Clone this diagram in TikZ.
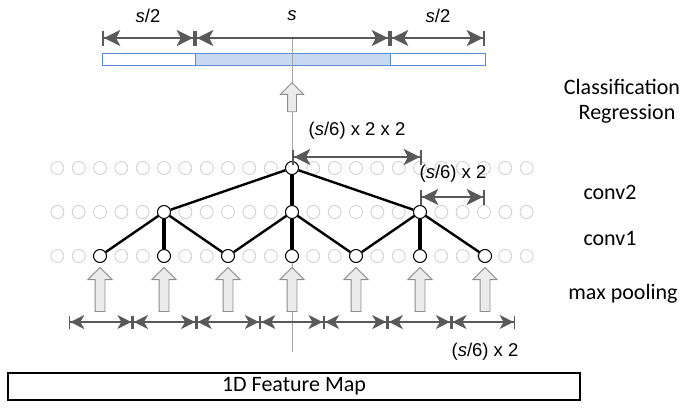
\documentclass[tikz,border=0pt]{standalone}
\usepackage{fontspec}
\setmainfont{Carlito}
\newfontfamily\arialfont{Liberation Sans}
\usetikzlibrary{arrows.meta,shapes.arrows}
\definecolor{dimgrey}{HTML}{595959}
\definecolor{barblue}{HTML}{5B8BD6}
\definecolor{barfill}{HTML}{C6D9F1}
\tikzset{
  bigdim/.style={draw=dimgrey, line width=2.2pt, {Bar[width=15pt,sep=0pt]Stealth[length=16pt,width=16pt,inset=4pt,sep=0pt]}-{Stealth[length=16pt,width=16pt,inset=4pt,sep=0pt]Bar[width=15pt,sep=0pt]}},
  smalldim/.style={draw=dimgrey, line width=1.3pt, {Bar[width=13pt,sep=0pt]Stealth[length=14pt,width=14pt,inset=4pt,sep=0pt]}-{Stealth[length=14pt,width=14pt,inset=4pt,sep=0pt]Bar[width=13pt,sep=0pt]}},
  ghost/.style={circle, draw=black!20, line width=0.8pt, minimum size=13pt, inner sep=0pt},
  unit/.style={circle, draw=black, fill=white, line width=1pt, minimum size=13pt, inner sep=0pt},
  edge/.style={line width=2.4pt},
  vedge/.style={line width=3.6pt},
  blockarr/.style={single arrow, shape border rotate=90, draw=black!45, fill=black!8, line width=0.9pt, inner sep=4.5pt, minimum width=18pt, single arrow tip angle=90},
  lab/.style={font=\fontsize{22}{26}\selectfont},
  dimlab/.style={font=\arialfont\fontsize{18.5}{22}\selectfont},
}
\begin{document}
\begin{tikzpicture}[x=1pt, y=-1pt]
\useasboundingbox (0,0) rectangle (686,408);
% output window
\draw[barblue, fill=white, line width=1pt] (102,53) rectangle (485,65);
\draw[barblue, fill=barfill, line width=1pt] (195,53) rectangle (390,65);
\coordinate (w0) at (102,38);
\coordinate (w1) at (195,38);
\coordinate (w2) at (390,38);
\coordinate (w3) at (485,38);
\draw[bigdim] (w0) -- (w1);
\draw[bigdim] (w1) -- (w2);
\draw[bigdim] (w2) -- (w3);
\node[dimlab] (ls1) at (148,16) {\textit{s}/2};
\node[dimlab] (ls) at (292,16) {\textit{s}};
\node[dimlab] (ls2) at (438,16) {\textit{s}/2};
% centre line
\coordinate (ctop) at (292,39);
\coordinate (cbot) at (292,352);
\draw[black!35, line width=0.8pt] (ctop) -- (cbot);
% grey units
\foreach \y in {168,212,256}
  \foreach \k in {-11,...,11}
    \node[ghost] (g\y\k) at ({292+21.33*\k},\y) {};
% active units
\node[unit] (t) at (292,168) {};
\node[unit] (m1) at (164,212) {};
\node[unit] (m2) at (292,212) {};
\node[unit] (m3) at (420,212) {};
\foreach \i/\x in {1/100,2/164,3/228,4/292,5/356,6/420,7/485}
  \node[unit] (b\i) at (\x,256) {};
\draw[edge] (t) -- (m1);
\draw[vedge] (t) -- (m2);
\draw[edge] (t) -- (m3);
\draw[edge] (m1) -- (b1);
\draw[vedge] (m1) -- (b2);
\draw[edge] (m1) -- (b3);
\draw[edge] (m2) -- (b3);
\draw[vedge] (m2) -- (b4);
\draw[edge] (m2) -- (b5);
\draw[edge] (m3) -- (b5);
\draw[vedge] (m3) -- (b6);
\draw[edge] (m3) -- (b7);
% pooling arrows
\foreach \i/\x in {1/100,2/164,3/228,4/292,5/356,6/420,7/485}
  \node[blockarr, minimum height=44pt] (p\i) at (\x,292) {};
\node[blockarr, minimum height=29pt, inner sep=4pt, minimum width=16pt] (up) at (292,99.5) {};
% pooling widths
\foreach \i in {0,...,7}
  \coordinate (d\i) at ({69+63.7*\i},322);
\foreach \i [evaluate=\i as \j using int(\i+1)] in {0,...,6}
  \draw[smalldim] (d\i) -- (d\j);
\node[dimlab] (lp) at (485,352) {(\textit{s}/6) x 2};
% receptive fields
\coordinate (r0) at (292,157);
\coordinate (r1) at (422,157);
\draw[bigdim] (r0) -- (r1);
\node[dimlab] (lr) at (357,131) {(\textit{s}/6) x 2 x 2};
\coordinate (q0) at (420,197);
\coordinate (q1) at (485,197);
\draw[bigdim] (q0) -- (q1);
\node[dimlab] (lq) at (453,174) {(\textit{s}/6) x 2};
% layer names
\node[lab] (cls) at (622,87) {Classification};
\node[lab] (reg) at (627,114) {Regression};
\node[lab] (c2) at (610,192) {conv2};
\node[lab] (c1) at (610,238) {conv1};
\node[lab] (mp) at (623,294) {max pooling};
% input
\node[draw, line width=2.5pt, minimum width=572pt, minimum height=27pt, inner sep=0pt, lab] (fm) at (294,386.5) {1D Feature Map};
\end{tikzpicture}
\end{document}
